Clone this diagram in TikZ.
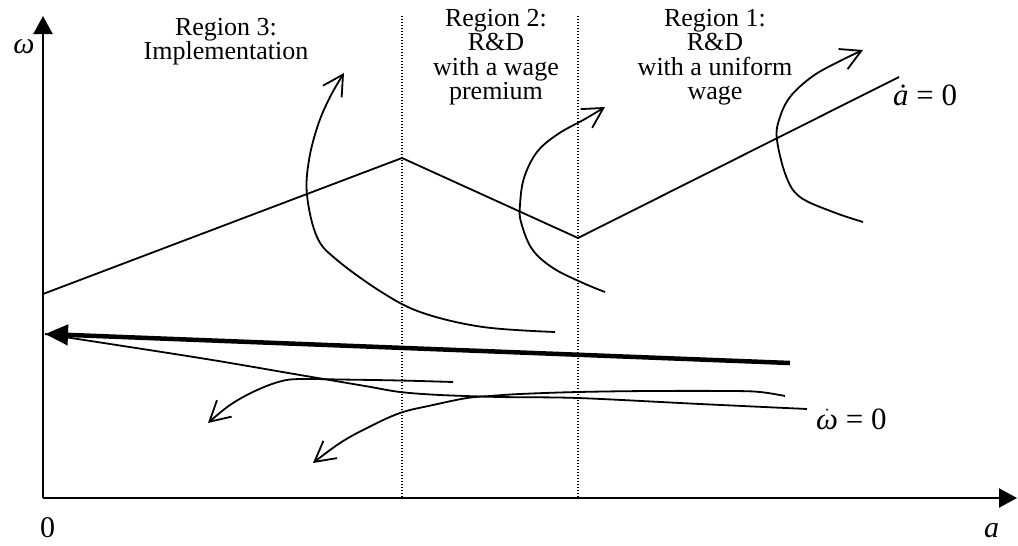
\documentclass[tikz,border=0pt]{standalone}
\usepackage[no-math]{fontspec}
\setmainfont{Liberation Serif}
\usetikzlibrary{arrows.meta}
\begin{document}
\begin{tikzpicture}[x=1pt,y=-1pt,
  axisline/.style={line width=2.2pt,-{Triangle[length=18pt,width=19pt]}},
  divider/.style={line width=1.3pt,dash pattern=on 1.3pt off 1.7pt},
  locus/.style={line width=1.8pt,line join=miter},
  traj/.style={line width=1.8pt,-{Straight Barb[length=20pt,width=22pt]}},
  saddlepath/.style={line width=4.5pt,-{Triangle[length=23pt,width=20pt]}},
  region/.style={align=center,inner sep=0pt,anchor=north,font=\fontsize{26}{24.5}\selectfont},
  eqlabel/.style={inner sep=0pt,anchor=base west,font=\fontsize{31}{36}\selectfont},
  axislabel/.style={inner sep=0pt,anchor=base,font=\fontsize{30}{36}\selectfont}]
\useasboundingbox (0,0) rectangle (1018,546);

% named points
\coordinate (O) at (43,498);
\coordinate (ytip) at (43,16);
\coordinate (xtip) at (1017,498);
\coordinate (d1top) at (402,16);
\coordinate (d1bot) at (402,498);
\coordinate (d2top) at (578,16);
\coordinate (d2bot) at (578,498);
\coordinate (a0) at (43,294);
\coordinate (apeak) at (402,158);
\coordinate (atrough) at (578,238);
\coordinate (aend) at (899,77);
\coordinate (sstart) at (790,363);
\coordinate (saddle) at (45,334);

% region dividers
\draw[divider] (d1top) -- (d1bot);
\draw[divider] (d2top) -- (d2bot);

% axes
\draw[axisline] (O) -- (ytip);
\draw[axisline] (O) -- (xtip);

% a-dot = 0 locus
\draw[locus] (a0) -- (apeak) -- (atrough) -- (aend);

% omega-dot = 0 locus
\draw[locus] plot[smooth,tension=0.5] coordinates {(45,334) (200,358) (300,375) (365,386) (400,392) (440,395) (500,397) (578,398) (700,404) (807,409)};

% saddle path
\draw[saddlepath] (sstart) -- (saddle);

% trajectories
\draw[traj] plot[smooth,tension=0.6] coordinates {(555,332) (483,327) (423,313) (383,293) (337,260) (317,237) (307,195) (309,160) (318,125) (330,97) (344,73)};
\draw[traj] plot[smooth,tension=0.6] coordinates {(605,292) (583,283) (553,268) (532,249) (521,222) (520,205) (524,178) (537,152) (558,134) (585,119) (605,107)};
\draw[traj] plot[smooth,tension=0.6] coordinates {(863,222) (833,212) (800,197) (786,176) (777,140) (779,120) (790,97) (813,76) (840,61) (863,50)};
\draw[traj] plot[smooth,tension=0.6] coordinates {(453,382) (400,380.5) (340,379.5) (300,379) (280,381.5) (255,391) (230,405) (208,423)};
\draw[traj] plot[smooth,tension=0.6] coordinates {(785,396) (760,392) (730,391) (650,391) (578,392) (520,394) (490,396) (467,398) (433,405) (400,413) (367,428) (340,443) (313,463)};

% labels
\node[region] (r3) at (226,15) {\rule{0pt}{20pt}Region 3:\\Implementation};
\node[region] (r2) at (496,6) {\rule{0pt}{20pt}Region 2:\\R\&D\\with a wage\\premium};
\node[region] (r1) at (715,6) {\rule{0pt}{20pt}Region 1:\\R\&D\\with a uniform\\wage};
\node[eqlabel] (adot) at (893,105) {{\itshape ȧ} = 0};
\node[eqlabel] (wdot) at (816,429) {$\dot{\hbox{\itshape ω}}$ = 0};
\node[axislabel,font=\fontsize{30}{36}\selectfont\itshape] (wlab) at (24,53) {ω};
\node[axislabel] (zero) at (47.5,537) {0};
\node[axislabel,font=\fontsize{30}{36}\selectfont\itshape] (alab) at (991.5,537) {a};
\end{tikzpicture}
\end{document}
